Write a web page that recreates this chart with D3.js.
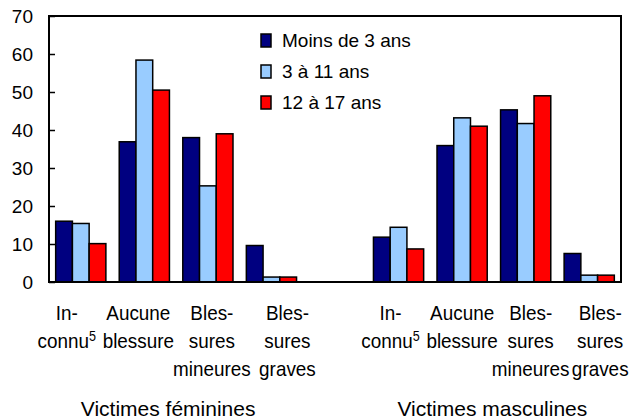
<!DOCTYPE html>
<html>
<head>
<meta charset="utf-8">
<script src="https://d3js.org/d3.v7.min.js"></script>
<style>
  body { margin: 0; background: #fff; }
  svg { display: block; }
  text { font-family: "Liberation Sans", Arial, sans-serif; fill: #000; }
</style>
</head>
<body>
<div id="chart"></div>
<script>
// catégories et valeurs (%)
const genders = ["Victimes féminines", "Victimes masculines"];
const injuries = ["Inconnu", "Aucune blessure", "Blessures mineures", "Blessures graves"];
const injuryLines = [["In-", "connu"], ["Aucune", "blessure"], ["Bles-", "sures", "mineures"], ["Bles-", "sures", "graves"]];
const series = ["Moins de 3 ans", "3 à 11 ans", "12 à 17 ans"];
const yTicks = [0, 10, 20, 30, 40, 50, 60, 70];

const femUnder3 = [16.0, 36.9, 38.0, 9.6];
const fem3to11 = [15.4, 58.4, 25.3, 1.3];
const fem12to17 = [10.1, 50.5, 39.0, 1.3];
const maleUnder3 = [11.8, 35.9, 45.3, 7.5];
const male3to11 = [14.4, 43.2, 41.7, 1.8];
const male12to17 = [8.7, 41.0, 49.0, 1.8];

const colors = ["#000080", "#99ccff", "#ff0000"];

const width = 636, height = 420;
const margin = { top: 16, right: 15, bottom: 138, left: 49 };

const svg = d3.select("#chart").append("svg")
  .attr("width", width)
  .attr("height", height);

// une colonne vide entre les deux groupes
const slots = [];
genders.forEach((g, gi) => {
  if (gi > 0) slots.push("gap");
  injuries.forEach(c => slots.push(gi + "|" + c));
});

const x = d3.scaleBand()
  .domain(slots)
  .range([margin.left, width - margin.right])
  .paddingInner(0.21)
  .paddingOuter(0.105);

const xs = d3.scaleBand()
  .domain(series)
  .range([0, x.bandwidth()]);

const y = d3.scaleLinear()
  .domain([0, 70])
  .range([height - margin.bottom, margin.top]);

const valuesByGender = [
  [femUnder3, fem3to11, fem12to17],
  [maleUnder3, male3to11, male12to17]
];

const rows = [];
genders.forEach((g, gi) => {
  injuries.forEach((c, ci) => {
    series.forEach((s, si) => {
      rows.push({ slot: gi + "|" + c, s: s, si: si, v: valuesByGender[gi][si][ci] });
    });
  });
});

// barres
svg.append("g")
  .selectAll("rect")
  .data(rows)
  .join("rect")
  .attr("x", d => x(d.slot) + xs(d.s))
  .attr("y", d => y(d.v))
  .attr("width", xs.bandwidth())
  .attr("height", d => y(0) - y(d.v))
  .attr("fill", d => colors[d.si])
  .attr("stroke", "#000")
  .attr("stroke-width", 1.5);

// cadre
svg.append("rect")
  .attr("x", margin.left)
  .attr("y", margin.top)
  .attr("width", width - margin.left - margin.right)
  .attr("height", height - margin.top - margin.bottom)
  .attr("fill", "none")
  .attr("stroke", "#000")
  .attr("stroke-width", 2);

// axe des y
const yAxis = svg.append("g")
  .attr("transform", `translate(${margin.left},0)`)
  .call(d3.axisLeft(y).tickValues(yTicks).tickSize(-6).tickPadding(16));
yAxis.select(".domain").remove();
yAxis.selectAll(".tick line").attr("stroke", "#000").attr("stroke-width", 1.5);
yAxis.selectAll(".tick text")
  .style("font-family", "'Liberation Sans', Arial, sans-serif")
  .style("font-size", "19px")
  .attr("fill", "#000");

// étiquettes des catégories (police étroite simulée)
const labelShift = [[-14, -6, 4, 16], [-8, 0, 5, 11]];
const xlab = svg.append("g");
genders.forEach((g, gi) => {
  injuries.forEach((c, ci) => {
    const cx = x(gi + "|" + c) + x.bandwidth() / 2 + labelShift[gi][ci];
    const t = xlab.append("g")
      .attr("transform", `translate(${cx},0) scale(0.9,1)`)
      .append("text")
      .attr("text-anchor", "middle")
      .style("font-size", "21px");
    injuryLines[ci].forEach((line, li) => {
      t.append("tspan")
        .attr("x", 0)
        .attr("y", 320 + li * 28)
        .text(line);
      if (ci === 0 && li === 1) {
        t.append("tspan")
          .attr("dy", -7)
          .style("font-size", "14px")
          .text("5");
      }
    });
  });
});

// titres des groupes
const titleShift = [-8, -1.5];
genders.forEach((g, gi) => {
  const centers = injuries.map(c => x(gi + "|" + c) + x.bandwidth() / 2);
  svg.append("text")
    .attr("x", d3.mean(centers) + titleShift[gi])
    .attr("y", 416)
    .attr("text-anchor", "middle")
    .style("font-size", "21px")
    .text(g);
});

// légende
const legend = svg.append("g").attr("transform", "translate(261,34)");
series.forEach((s, si) => {
  const row = legend.append("g").attr("transform", `translate(0,${si * 31})`);
  row.append("rect")
    .attr("width", 10)
    .attr("height", 13)
    .attr("fill", colors[si])
    .attr("stroke", "#000")
    .attr("stroke-width", 1.5);
  row.append("text")
    .attr("x", 21)
    .attr("y", 13)
    .style("font-size", "19px")
    .text(s);
});
</script>
</body>
</html>
